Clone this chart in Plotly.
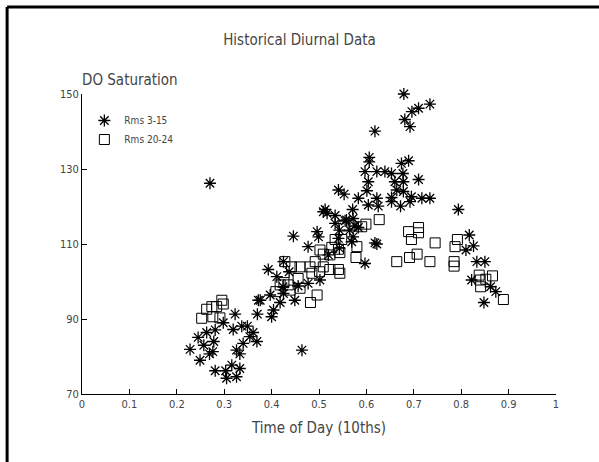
import plotly.graph_objects as go

# ---- data ----
star_x = [0.27, 0.228, 0.245, 0.249, 0.257, 0.263, 0.269, 0.276, 0.281, 0.278, 0.281, 0.298, 0.303, 0.305,
          0.316, 0.319, 0.323, 0.326, 0.326, 0.333, 0.333, 0.337, 0.340, 0.349, 0.354, 0.361, 0.369, 0.370,
          0.372, 0.618, 0.606, 0.606, 0.674, 0.689, 0.597, 0.622, 0.639, 0.653, 0.677, 0.604, 0.660, 0.678,
          0.710, 0.541, 0.553, 0.601, 0.664, 0.678, 0.583, 0.622, 0.653, 0.695, 0.717, 0.734, 0.604, 0.625,
          0.653, 0.672, 0.692, 0.571, 0.513, 0.517, 0.534, 0.794, 0.534, 0.572, 0.576, 0.555, 0.543, 0.565,
          0.583, 0.496, 0.446, 0.499, 0.541, 0.572, 0.569, 0.618, 0.622, 0.477, 0.520, 0.543, 0.597, 0.425,
          0.393, 0.411, 0.437, 0.424, 0.456, 0.477, 0.502, 0.376, 0.397, 0.425, 0.449, 0.418, 0.404, 0.400,
          0.817, 0.826, 0.810, 0.833, 0.850, 0.822, 0.848, 0.862, 0.873, 0.679, 0.734, 0.710, 0.696, 0.681,
          0.692, 0.464, 0.509, 0.558]
star_y = [126.2, 81.9, 85.1, 79.0, 83.0, 86.4, 80.7, 81.3, 87.1, 84.0, 76.2, 89.0, 76.2, 74.2,
          77.7, 87.2, 91.3, 74.6, 81.7, 76.8, 80.7, 88.1, 83.5, 88.1, 85.3, 86.4, 84.0, 91.3,
          95.0, 140.1, 133.1, 131.9, 131.5, 132.2, 129.3, 129.3, 129.3, 128.8, 128.8, 126.6, 126.6, 126.6,
          127.2, 124.4, 123.3, 124.2, 124.4, 124.0, 122.2, 122.2, 122.4, 122.6, 122.2, 122.2, 120.4, 120.1,
          121.3, 120.1, 121.3, 119.2, 119.2, 118.2, 117.6, 119.2, 115.5, 116.8, 114.8, 116.2, 113.7, 113.7,
          114.4, 113.3, 112.1, 111.9, 111.5, 111.9, 110.6, 110.3, 110.0, 109.3, 107.1, 108.9, 104.8, 105.3,
          103.2, 101.3, 102.6, 98.6, 98.8, 99.5, 100.4, 95.0, 96.4, 96.8, 95.0, 94.4, 92.4, 90.6,
          112.4, 109.5, 108.4, 105.3, 105.3, 100.4, 94.4, 98.6, 97.3, 150.0, 147.3, 146.2, 145.3, 143.2,
          141.3, 81.7, 118.6, 116.4]

sq_x = [0.2525, 0.263, 0.274, 0.284, 0.276, 0.291, 0.295, 0.298,
        0.627, 0.599, 0.590, 0.689, 0.710, 0.710, 0.695, 0.745, 0.792, 0.787, 0.785, 0.785, 0.664, 0.691,
        0.707, 0.734, 0.578, 0.580, 0.551, 0.534, 0.548, 0.541, 0.527, 0.502, 0.509, 0.523, 0.544, 0.428,
        0.442, 0.460, 0.481, 0.492, 0.509, 0.523, 0.541, 0.544, 0.485, 0.501, 0.435, 0.456, 0.418, 0.439,
        0.460, 0.409, 0.496, 0.482, 0.426, 0.838, 0.840, 0.841, 0.866, 0.889, 0.852]
sq_y = [90.2, 92.6, 93.3, 93.3, 90.6, 90.3, 95.0, 94.0,
        116.5, 115.3, 114.6, 113.3, 114.4, 113.0, 111.2, 110.3, 111.2, 109.3, 105.3, 104.1, 105.3, 106.4,
        107.3, 105.3, 106.4, 109.3, 114.8, 111.2, 111.2, 108.6, 109.1, 108.4, 107.3, 107.1, 107.7, 105.3,
        103.9, 103.9, 103.9, 105.3, 103.9, 103.2, 103.2, 102.2, 102.2, 102.6, 99.1, 100.8, 99.1, 97.7,
        98.2, 97.3, 96.4, 94.4, 99.7, 101.7, 100.4, 98.6, 101.5, 95.2, 100.6]

x_ticks = [0, 0.1, 0.2, 0.3, 0.4, 0.5, 0.6, 0.7, 0.8, 0.9, 1]
x_tick_text = ["0", "0.1", "0.2", "0.3", "0.4", "0.5", "0.6", "0.7", "0.8", "0.9", "1"]
y_ticks = [70, 90, 110, 130, 150]

FONT = "Liberation Sans Narrow, DejaVu Sans Condensed, Arial Narrow, sans-serif"
TXT = "#444444"

fig = go.Figure()
fig.add_trace(go.Scatter(
    x=star_x, y=star_y, mode="markers", name="Rms 3-15", cliponaxis=False,
    marker=dict(symbol="asterisk-open", size=10, color="black", line=dict(color="black", width=1.3)),
))
fig.add_trace(go.Scatter(
    x=sq_x, y=sq_y, mode="markers", name="Rms 20-24", cliponaxis=False,
    marker=dict(symbol="square-open", size=10, color="black", line=dict(color="black", width=1)),
))

fig.update_layout(
    width=599, height=462,
    margin=dict(l=82, r=43, t=94, b=68),
    paper_bgcolor="white", plot_bgcolor="white",
    font=dict(family=FONT, color=TXT, size=11),
    title=dict(text="Historical Diurnal Data", x=0.5, xref="container", xanchor="center",
               y=1 - 40 / 462, yref="container", yanchor="middle",
               font=dict(family=FONT, size=15, color=TXT)),
    showlegend=True,
    legend=dict(x=0.005, y=0.96, xanchor="left", yanchor="top", bgcolor="rgba(0,0,0,0)",
                font=dict(family=FONT, size=10, color=TXT), itemwidth=30, tracegroupgap=5),
    xaxis=dict(range=[0, 1], tickvals=x_ticks, ticktext=x_tick_text, showgrid=False, zeroline=False,
               showline=True, linecolor="black", linewidth=1, ticks="inside", ticklen=5, tickcolor="black",
               tickfont=dict(family=FONT, size=11, color=TXT),
               title=dict(text="Time of Day (10ths)", font=dict(family=FONT, size=15, color=TXT), standoff=12)),
    yaxis=dict(range=[70, 150], tickvals=y_ticks, showgrid=False, zeroline=False,
               showline=True, linecolor="black", linewidth=1, ticks="inside", ticklen=5, tickcolor="black",
               tickfont=dict(family=FONT, size=11, color=TXT)),
)

fig.add_annotation(text="DO Saturation", xref="paper", yref="paper", x=-0.005, y=1.047,
                   xanchor="left", yanchor="middle", showarrow=False,
                   font=dict(family=FONT, size=15, color=TXT))

# page frame (left and top edges)
fig.add_shape(type="line", xref="paper", yref="paper", x0=-0.158, x1=-0.158, y0=1.29, y1=-0.23,
              line=dict(color="black", width=3))
fig.add_shape(type="line", xref="paper", yref="paper", x0=-0.158, x1=1.1, y0=1.29, y1=1.29,
              line=dict(color="black", width=3))

fig.write_html("out.html")
